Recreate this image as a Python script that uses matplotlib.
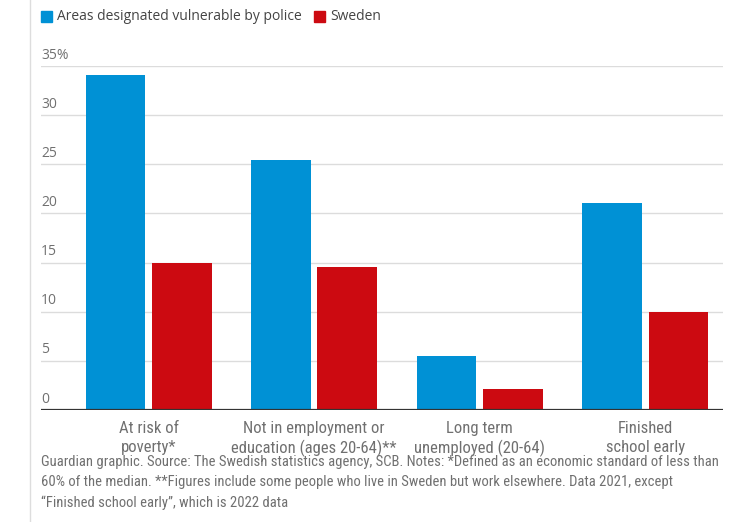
import numpy as np
import matplotlib.pyplot as plt
from matplotlib import font_manager
from matplotlib.lines import Line2D
from matplotlib.patches import Rectangle

categories = ['At risk of\npoverty*', 'Not in employment or\neducation (ages 20-64)**',
              'Long term\nunemployed (20-64)', 'Finished\nschool early']
vulnerable = [34.1, 25.4, 5.5, 21.1]
sweden = [15.0, 14.5, 2.1, 10.0]
series_names = ['Areas designated vulnerable by police', 'Sweden']
yticks = [0, 5, 10, 15, 20, 25, 30, 35]
note = ('Guardian graphic. Source: The Swedish statistics agency, SCB. Notes: *Defined as an economic standard of less than\n'
        '60% of the median. **Figures include some people who live in Sweden but work elsewhere. Data 2021, except\n'
        '\u201cFinished school early\u201d, which is 2022 data')

blue = '#0091d5'
red = '#cc0a11'
grey = '#707070'

# a condensed face for the category labels and the note
names = {f.name for f in font_manager.fontManager.ttflist}
narrow = 'DejaVu Sans'
for cand in ['Roboto Condensed', 'Open Sans Condensed', 'Sofia Sans Semi Condensed', 'Sofia Sans Condensed']:
    if cand in names:
        narrow = cand
        break
plt.rcParams['font.family'] = ['Open Sans', 'DejaVu Sans']

fig = plt.figure(figsize=(7.54, 5.22), dpi=100)
ax = fig.add_axes([41 / 754, 1 - 410 / 522, 682 / 754, 344 / 522])

x = np.arange(len(categories))
w = 0.36
ax.bar(x - w / 2 - 0.02, vulnerable, w, color=blue, zorder=3)
ax.bar(x + w / 2 + 0.02, sweden, w, color=red, zorder=3)

ax.set_xlim(-0.65, 3.47)
ax.set_ylim(0, 35)
for s in ax.spines.values():
    s.set_visible(False)
ax.set_yticks([])
ax.set_xticks(x)
ax.set_xticklabels(categories, fontsize=12, color=grey, family=[narrow, 'DejaVu Sans'], linespacing=1.3)
ax.tick_params(axis='x', length=0, pad=8)

for t in yticks:
    if t > 0:
        ax.axhline(t, color='#dcdcdc', lw=1, zorder=1)
    lab = f'{t}%' if t == 35 else str(t)
    ax.text(0, t + 0.35, lab, transform=ax.get_yaxis_transform(), fontsize=10,
            color=grey, ha='left', va='bottom')
ax.axhline(0, color='#333333', lw=1.6, zorder=4)

# legend
fig.patches.append(Rectangle((41 / 754, 1 - 22 / 522), 11 / 754, 11 / 522,
                             transform=fig.transFigure, color=blue))
fig.text(57 / 754, 1 - 17 / 522, series_names[0], fontsize=10, color='#444444', va='center')
fig.patches.append(Rectangle((314 / 754, 1 - 22 / 522), 11 / 754, 11 / 522,
                             transform=fig.transFigure, color=red))
fig.text(330 / 754, 1 - 17 / 522, series_names[1], fontsize=10, color='#444444', va='center')

# footnote
fig.text(41 / 754, 1 - 455 / 522, note, fontsize=10.5, color=grey, family=[narrow, 'DejaVu Sans'],
         va='top', ha='left', linespacing=1.55)

# page border on the left
fig.add_artist(Line2D([30 / 754, 30 / 754], [0, 1], transform=fig.transFigure,
                      color='#dddddd', lw=1))

fig.savefig('out.png', dpi=100)
